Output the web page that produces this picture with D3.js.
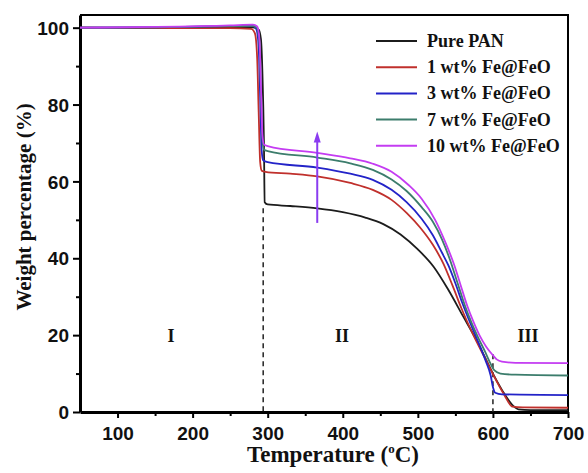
<!DOCTYPE html>
<html>
<head>
<meta charset="utf-8">
<script src="https://cdn.jsdelivr.net/npm/d3@7"></script>
<style>
  body { margin: 0; background: #fff; }
  .tick text { font-family: "Liberation Sans", Arial, sans-serif; font-weight: bold; font-size: 19px; }
  .serif { font-family: "Liberation Serif", "Times New Roman", serif; font-weight: bold; }
</style>
</head>
<body>
<svg width="588" height="473"></svg>
<script>
  const seriesNames = ['Pure PAN', '1 wt% Fe@FeO', '3 wt% Fe@FeO', '7 wt% Fe@FeO', '10 wt% Fe@FeO'];
  const seriesColors = ['#1c1c1c', '#c0302c', '#2323c8', '#3c7d6c', '#c43cf2'];

  // [temperature, weight %]
  const purePAN = [[50,100],[150,100],[250,100.1],[280,100.1],[288,99.5],[291,97],[293,88],[295,70],[296,54.6],[300,54],
    [330,53.6],[366,53],[400,52],[430,50.6],[454,48.9],[477,46.2],[500,42.3],[521,37.8],[540,32],[560,25],
    [580,18],[600,10],[615,4.8],[627,1.6],[634,0.7],[650,0.5],[700,0.5]];
  const fe1 = [[50,100],[150,99.9],[250,99.9],[278,99.7],[283,98.5],[286,92],[288,78],[290,65],[292,62.8],[297,62.5],
    [330,62],[366,61.3],[410,59.6],[440,57.8],[465,55.2],[485,51.8],[503,48],[520,43.5],[534,38.6],[546,33],
    [558,27],[574,20],[590,13.8],[605,8],[615,4.5],[626,1.4],[640,1.2],[700,1.1]];
  const fe3 = [[50,100],[150,100.1],[250,100.4],[280,100.5],[285,99.6],[288,95],[290,82],[292,68],[294,65.5],[300,65],
    [366,63.6],[410,62],[440,60.4],[465,57.8],[485,54.6],[505,50.3],[520,46],[532,41.5],[541,38],[550,33.5],
    [559,28.5],[568,24],[577,19.8],[590,13.5],[597,9.5],[600,6.5],[603,5],[612,4.6],[700,4.4]];
  const fe7 = [[50,100],[150,100.1],[250,100.4],[280,100.5],[286,99.8],[289,96],[291,84],[293,71],[295,68.3],[300,67.9],
    [366,66.2],[410,64.7],[440,63],[465,60.5],[485,57.5],[505,53.3],[520,49.5],[532,45],[543,39.5],[553,33.5],
    [563,27.5],[572,23],[580,19.5],[590,15.5],[597,12.5],[602,10.8],[610,10],[630,9.7],[700,9.5]];
  const fe10 = [[50,100],[150,100.2],[250,100.6],[280,100.8],[286,100.3],[289,97],[291,85],[293,72],[295,69.6],[300,69.2],
    [366,67.4],[410,66],[440,64.6],[465,62.5],[488,59],[505,55.5],[523,50],[537,44],[548,38.5],[557,33],
    [566,27.5],[574,23.5],[582,20],[591,17],[599,15],[605,13.7],[612,13.1],[630,12.8],[700,12.7]];
  const seriesData = [purePAN, fe1, fe3, fe7, fe10];

  const xTicks = [100, 200, 300, 400, 500, 600, 700];
  const xMinor = [150, 250, 350, 450, 550, 650];
  const yTicks = [0, 20, 40, 60, 80, 100];
  const yMinor = [10, 30, 50, 70, 90];
  const regions = [['I', 171], ['II', 342], ['III', 528]];
  const dividers = [[294, 53], [600, 15]];
  const arrow = { t: 366, from: 49.2, to: 73 };

  const svg = d3.select('svg');
  const margin = { top: 15, right: 20, bottom: 61, left: 80 };
  const width = +svg.attr('width');
  const height = +svg.attr('height');
  const innerWidth = width - margin.left - margin.right;
  const innerHeight = height - margin.top - margin.bottom;

  const xScale = d3.scaleLinear().domain([50, 700]).range([0, innerWidth]);
  const yScale = d3.scaleLinear().domain([0, 103.3]).range([innerHeight, 0]);

  const g = svg.append('g').attr('transform', `translate(${margin.left},${margin.top})`);

  // frame top/right
  g.append('path')
    .attr('d', `M0,0H${innerWidth}V${innerHeight}`)
    .attr('fill', 'none').attr('stroke', '#000').attr('stroke-width', 2);

  // minor ticks
  const minorX = g.append('g').attr('transform', `translate(0,${innerHeight})`)
    .call(d3.axisBottom(xScale).tickValues(xMinor).tickSize(4));
  const minorY = g.append('g')
    .call(d3.axisLeft(yScale).tickValues(yMinor).tickSize(4));
  [minorX, minorY].forEach(a => {
    a.select('.domain').remove();
    a.selectAll('text').remove();
    a.selectAll('line').attr('stroke-width', 2);
  });

  const xAxisG = g.append('g').attr('transform', `translate(0,${innerHeight})`)
    .call(d3.axisBottom(xScale).tickValues(xTicks).tickSize(6).tickSizeOuter(0).tickPadding(9));
  const yAxisG = g.append('g')
    .call(d3.axisLeft(yScale).tickValues(yTicks).tickSize(7).tickSizeOuter(0).tickPadding(4));
  [xAxisG, yAxisG].forEach(a => {
    a.select('.domain').attr('stroke-width', 3);
    a.selectAll('.tick line').attr('stroke-width', 2);
    a.selectAll('.tick text').attr('fill', '#111');
  });
  yAxisG.selectAll('.tick text').attr('dy', '0.35em');

  // dashed dividers
  g.selectAll('.divider').data(dividers).enter().append('line')
    .attr('class', 'divider')
    .attr('x1', d => xScale(d[0])).attr('x2', d => xScale(d[0]))
    .attr('y1', d => yScale(d[1])).attr('y2', innerHeight)
    .attr('stroke', '#222').attr('stroke-width', 1.5).attr('stroke-dasharray', '5,4');

  // curves
  const line = d3.line().x(d => xScale(d[0])).y(d => yScale(d[1])).curve(d3.curveMonotoneX);
  g.selectAll('.curve').data(seriesData).enter().append('path')
    .attr('class', 'curve')
    .attr('d', line)
    .attr('fill', 'none')
    .attr('stroke', (d, i) => seriesColors[i])
    .attr('stroke-width', 1.8);

  // arrow
  const ax = xScale(arrow.t);
  const ay1 = yScale(arrow.from);
  const ay2 = yScale(arrow.to);
  g.append('line')
    .attr('x1', ax).attr('x2', ax).attr('y1', ay1).attr('y2', ay2 + 8)
    .attr('stroke', '#8a3cf0').attr('stroke-width', 2);
  g.append('path')
    .attr('d', `M${ax},${ay2}L${ax - 3.5},${ay2 + 11}L${ax + 3.5},${ay2 + 11}Z`)
    .attr('fill', '#8a3cf0');

  // region labels
  g.selectAll('.region').data(regions).enter().append('text')
    .attr('class', 'serif region')
    .attr('x', d => d[1] - margin.left)
    .attr('y', yScale(20) + 7)
    .attr('text-anchor', 'middle')
    .attr('font-size', 18)
    .attr('fill', '#111')
    .text(d => d[0]);

  // legend
  const legend = g.append('g').attr('transform', `translate(${376 - margin.left},${41 - margin.top})`);
  const item = legend.selectAll('.item').data(seriesNames).enter().append('g')
    .attr('transform', (d, i) => `translate(0,${i * 26.2})`);
  item.append('line')
    .attr('x1', 0).attr('x2', 41)
    .attr('stroke', (d, i) => seriesColors[i]).attr('stroke-width', 2);
  item.append('text')
    .attr('class', 'serif')
    .attr('x', 51).attr('dy', '0.33em')
    .attr('font-size', 18)
    .attr('fill', '#111')
    .text(d => d);

  // axis titles
  const xTitle = svg.append('text')
    .attr('class', 'serif')
    .attr('x', 333)
    .attr('y', 462)
    .attr('text-anchor', 'middle')
    .attr('font-size', 23)
    .attr('fill', '#111');
  xTitle.append('tspan').text('Temperature (');
  xTitle.append('tspan').attr('font-size', 13).attr('dy', -9).text('o');
  xTitle.append('tspan').attr('dy', 9).text('C)');

  svg.append('text')
    .attr('class', 'serif')
    .attr('transform', `translate(31,207) rotate(-90)`)
    .attr('text-anchor', 'middle')
    .attr('font-size', 21)
    .attr('fill', '#111')
    .text('Weight percentage (%)');
</script>
</body>
</html>
